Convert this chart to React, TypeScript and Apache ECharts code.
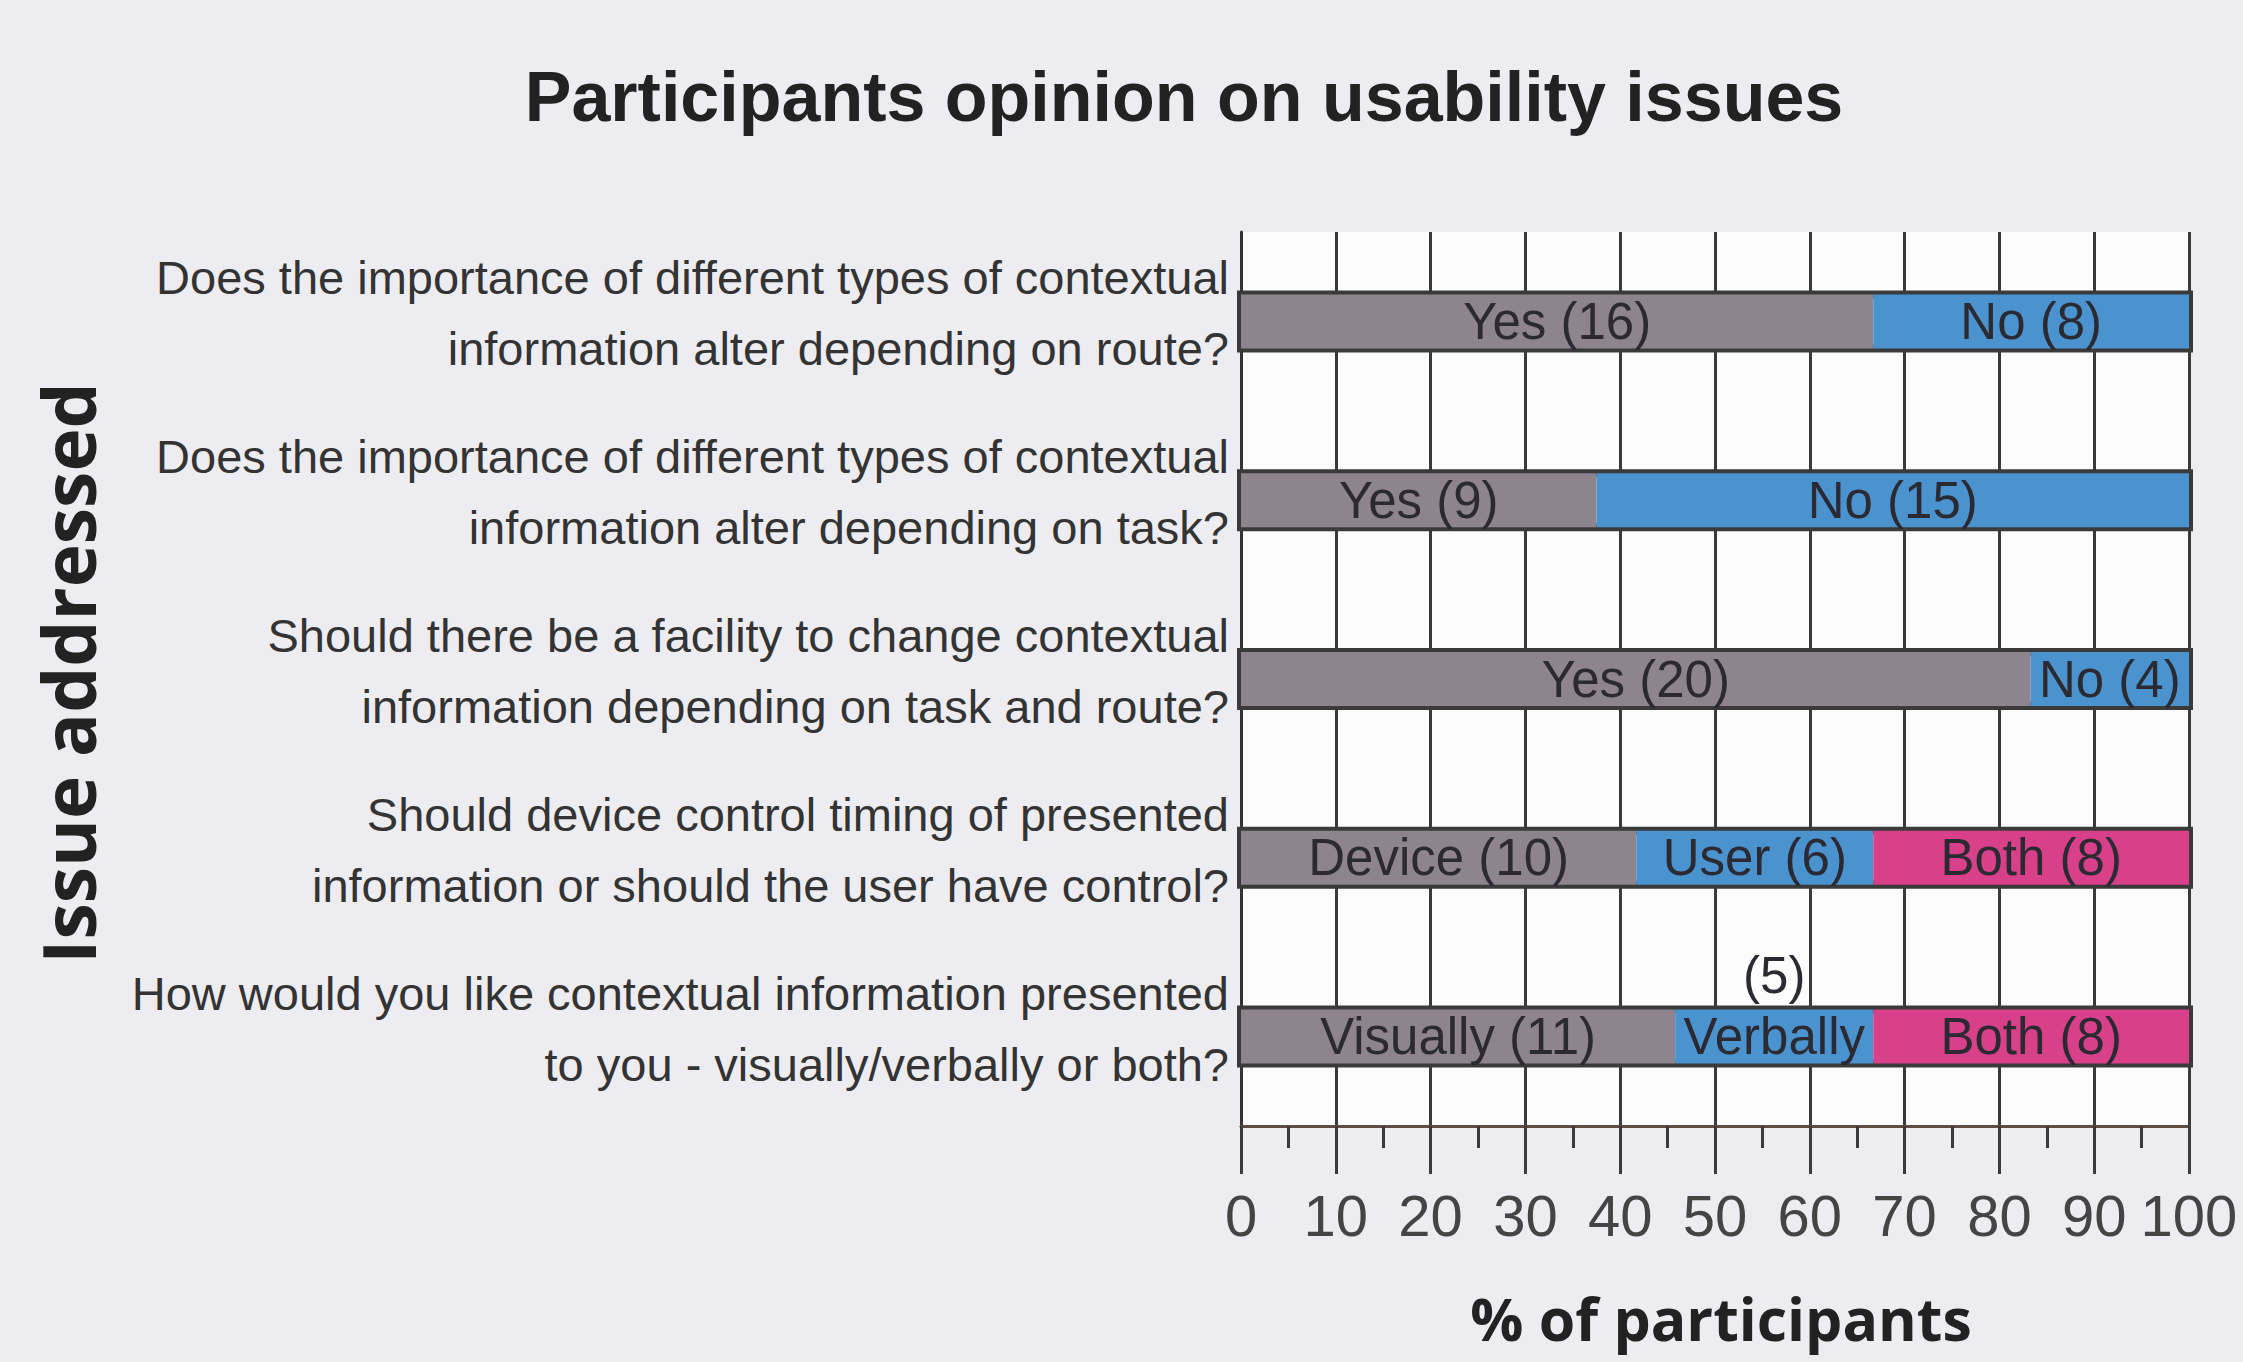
import React, { useEffect, useRef } from "react";
import * as echarts from "echarts";

const categories = [
  "Does the importance of different types of contextual\ninformation alter depending on route?",
  "Does the importance of different types of contextual\ninformation alter depending on task?",
  "Should there be a facility to change contextual\ninformation depending on task and route?",
  "Should device control timing of presented\ninformation or should the user have control?",
  "How would you like contextual information presented\nto you - visually/verbally or both?",
];

const firstNames = ["Yes", "Yes", "Yes", "Device", "Visually"];
const firstCounts = [16, 9, 20, 10, 11];
const firstPct = [66.7, 37.5, 83.3, 41.7, 45.8];

const secondNames = ["No", "No", "No", "User", "Verbally"];
const secondCounts = [8, 15, 4, 6, 5];
const secondPct = [33.3, 62.5, 16.7, 25.0, 20.9];

const thirdNames = ["", "", "", "Both", "Both"];
const thirdCounts = [0, 0, 0, 8, 8];
const thirdPct = [null, null, null, 33.3, 33.3];

const xTicks = [0, 10, 20, 30, 40, 50, 60, 70, 80, 90, 100];

const SANS = "'Liberation Sans', Arial, sans-serif";
const BOLD_TITLE = "'Open Sans', 'Noto Sans', sans-serif";
const GRID_LEFT = 1241;
const GRID_RIGHT = 54;
const GRID_TOP = 232;
const GRID_BOTTOM = 236;

export default function App() {
  const ref = useRef<HTMLDivElement>(null);

  useEffect(() => {
    if (!ref.current) return;
    const chart = echarts.init(ref.current, undefined, { renderer: "svg" });

    const labelBase = {
      show: true,
      position: "inside",
      fontFamily: SANS,
      fontSize: 51,
      color: "#2b2a33",
    };

    const option = {
      animation: false,
      backgroundColor: "#ececf1",
      grid: {
        left: GRID_LEFT,
        right: GRID_RIGHT,
        top: GRID_TOP,
        bottom: GRID_BOTTOM,
        show: true,
        backgroundColor: "#fcfcfd",
        borderWidth: 0,
      },
      xAxis: {
        type: "value",
        min: 0,
        max: 100,
        interval: 10,
        axisLine: { show: true, lineStyle: { color: "#5e4d45", width: 3 } },
        axisTick: { show: true, length: 48, lineStyle: { color: "#3a3a3a", width: 3 } },
        minorTick: { show: true, splitNumber: 2, length: 22, lineStyle: { color: "#3a3a3a", width: 3 } },
        splitLine: { show: true, lineStyle: { color: "#3a3a3a", width: 3 } },
        axisLabel: {
          margin: 60,
          fontFamily: SANS,
          fontSize: 58,
          color: "#444",
          formatter: (v: number) => (xTicks.includes(v) ? String(v) : ""),
        },
      },
      yAxis: {
        type: "category",
        inverse: true,
        data: categories,
        axisLine: { show: true, lineStyle: { color: "#333", width: 3 } },
        axisTick: { show: false },
        splitLine: { show: false },
        axisLabel: {
          margin: 12,
          fontFamily: SANS,
          fontSize: 47,
          lineHeight: 71,
          color: "#333",
          align: "right",
          formatter: (v: string) =>
            v.split("\n").map((line) => `{t|${line}}`).join("\n") + "\n{e| }",
          rich: {
            t: { fontFamily: SANS, fontSize: 47, lineHeight: 71, color: "#333", align: "right" },
            e: { fontSize: 1, lineHeight: 16, align: "right" },
          },
        },
      },
      series: [
        {
          type: "bar",
          stack: "total",
          barWidth: 54,
          data: firstPct,
          showBackground: true,
          backgroundStyle: { color: "rgba(0,0,0,0)", borderColor: "#3a3a3a", borderWidth: 8 },
          itemStyle: { color: "#8d848e" },
          label: {
            ...labelBase,
            formatter: (p: any) => `${firstNames[p.dataIndex]} (${firstCounts[p.dataIndex]})`,
          },
        },
        {
          type: "bar",
          stack: "total",
          barWidth: 54,
          data: secondPct,
          itemStyle: { color: "#4b93cf" },
          label: {
            ...labelBase,
            formatter: (p: any) =>
              secondNames[p.dataIndex] === "Verbally"
                ? `{s|(${secondCounts[p.dataIndex]})}\n{m|${secondNames[p.dataIndex]}}\n{s| }`
                : `${secondNames[p.dataIndex]} (${secondCounts[p.dataIndex]})`,
            rich: {
              s: { fontFamily: SANS, fontSize: 51, lineHeight: 61, color: "#2b2a33" },
              m: { fontFamily: SANS, fontSize: 51, lineHeight: 61, color: "#2b2a33" },
            },
          },
        },
        {
          type: "bar",
          stack: "total",
          barWidth: 54,
          data: thirdPct,
          itemStyle: { color: "#d8408a" },
          label: {
            ...labelBase,
            formatter: (p: any) => `${thirdNames[p.dataIndex]} (${thirdCounts[p.dataIndex]})`,
          },
        },
      ],
      graphic: [
        {
          type: "text",
          x: 1184,
          y: 97,
          style: {
            text: "Participants opinion on usability issues",
            fontFamily: SANS,
            fontWeight: "bold",
            fontSize: 70,
            fill: "#222",
            textAlign: "center",
            textVerticalAlign: "middle",
          },
        },
        {
          type: "text",
          x: 1721,
          y: 1318,
          style: {
            text: "% of participants",
            fontFamily: BOLD_TITLE,
            fontWeight: "bold",
            fontSize: 59,
            fill: "#222",
            textAlign: "center",
            textVerticalAlign: "middle",
          },
        },
        {
          type: "text",
          x: 67,
          y: 673,
          rotation: Math.PI / 2,
          style: {
            text: "Issue addressed",
            fontFamily: BOLD_TITLE,
            fontWeight: "bold",
            fontSize: 73,
            fill: "#222",
            textAlign: "center",
            textVerticalAlign: "middle",
          },
        },
      ],
    };

    chart.setOption(option as any);
    return () => chart.dispose();
  }, []);

  return (
    <div
      ref={ref}
      style={{ position: "fixed", left: 0, top: 0, width: 2243, height: 1362 }}
    />
  );
}
